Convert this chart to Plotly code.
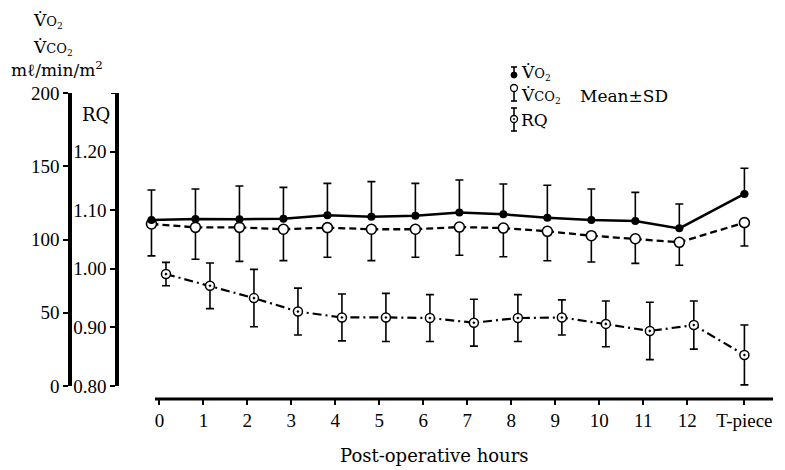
import plotly.graph_objects as go

# ---------------- data ----------------
hour_labels = ["0", "1", "2", "3", "4", "5", "6", "7", "8", "9", "10", "11", "12", "T-piece"]
hour_pos = [0, 1, 2, 3, 4, 5, 6, 7, 8, 9, 10, 11, 12, 13.3]

vo2_mean = [113.3, 114.0, 113.8, 114.2, 116.5, 115.6, 116.2, 118.4, 117.2, 114.9, 113.3, 112.6, 107.6, 131.1]
vo2_sd = [20.5, 20.5, 22.7, 21.4, 21.8, 23.9, 22.1, 22.2, 20.7, 22.1, 21.2, 19.6, 16.6, 17.5]

vco2_mean = [110.6, 108.3, 108.3, 107.0, 108.1, 107.0, 107.0, 108.5, 107.8, 105.6, 102.6, 100.5, 98.1, 111.5]
vco2_sd = [21.8, 21.8, 23.2, 21.4, 20.2, 21.4, 19.1, 19.3, 19.6, 20.1, 18.0, 16.8, 15.7, 15.9]

rq_mean = [0.991, 0.971, 0.950, 0.927, 0.917, 0.917, 0.916, 0.908, 0.916, 0.917, 0.906, 0.894, 0.904, 0.853]
rq_sd = [0.020, 0.039, 0.049, 0.040, 0.040, 0.041, 0.040, 0.040, 0.040, 0.030, 0.039, 0.049, 0.041, 0.051]

vo2_ticks = [0, 50, 100, 150, 200]
rq_ticks = [0.80, 0.90, 1.00, 1.10, 1.20]
rq_ticktext = ["0.80", "0.90", "1.00", "1.10", "1.20"]
rq_top = 1.30
x_line_range = [-0.1, 13.95]

# ---------------- layout constants ----------------
FIG_W, FIG_H = 785, 470
ML, MR, MT, MB = 70, 12, 93, 71
PW = FIG_W - ML - MR
PH = FIG_H - MT - MB
SERIF = "DejaVu Serif"
TICKFONT = dict(family="Liberation Serif", size=19, color="black")
X_START_PX = 135
PX_PER_HOUR = 44.0

# small horizontal dodge used in the original drawing (hours only)
dodge_mask = [1] * 13 + [0]
vo2_x = [p - 0.18 * m for p, m in zip(hour_pos, dodge_mask)]
rq_x = [p + 0.15 * m for p, m in zip(hour_pos, dodge_mask)]


def px(x):
    return (x - ML) / PW


def py(y):
    return (FIG_H - MB - y) / PH


fig = go.Figure()

fig.add_trace(go.Scatter(
    x=vo2_x, y=vco2_mean, mode="lines+markers", name="VCO2", cliponaxis=False,
    line=dict(color="black", width=2.3, dash="7px,4px"),
    marker=dict(symbol="circle", size=10, color="white", line=dict(color="black", width=1.6)),
    error_y=dict(type="data", symmetric=False, array=[0] * len(vco2_sd), arrayminus=vco2_sd,
                 color="black", thickness=1.6, width=4),
    xaxis="x", yaxis="y",
))
fig.add_trace(go.Scatter(
    x=vo2_x, y=vo2_mean, mode="lines+markers", name="VO2", cliponaxis=False,
    line=dict(color="black", width=2.5),
    marker=dict(symbol="circle", size=8, color="black"),
    error_y=dict(type="data", symmetric=False, array=vo2_sd, arrayminus=[0] * len(vo2_sd),
                 color="black", thickness=1.6, width=4),
    xaxis="x", yaxis="y",
))
fig.add_trace(go.Scatter(
    x=rq_x, y=rq_mean, mode="lines+markers", name="RQ", cliponaxis=False,
    line=dict(color="black", width=2.2, dash="9px,4px,2px,4px"),
    marker=dict(symbol="circle-dot", size=9, color="white", line=dict(color="black", width=1.5)),
    error_y=dict(type="data", array=rq_sd, color="black", thickness=1.6, width=4),
    xaxis="x", yaxis="y2",
))

annotations = []
shapes = []

# top-left unit labels
annotations.append(dict(text="V\u0307<span style='font-size:13px'>O<sub>2</sub></span>",
                        x=px(31), y=py(21), xanchor="left", yanchor="middle"))
annotations.append(dict(text="V\u0307<span style='font-size:13px'>CO<sub>2</sub></span>",
                        x=px(31), y=py(47), xanchor="left", yanchor="middle"))
annotations.append(dict(text="m\u2113/min/m<sup>2</sup>",
                        x=px(57), y=py(69), xanchor="center", yanchor="middle"))
annotations.append(dict(text="RQ", x=px(96), y=py(114), xanchor="center", yanchor="middle",
                        font=dict(family=SERIF, size=18, color="black")))

# x title
annotations.append(dict(text="Post-operative hours", x=px(434), y=py(455),
                        xanchor="center", yanchor="middle",
                        font=dict(family=SERIF, size=18, color="black")))

# legend
LX = 514
legend_rows = [
    ("V\u0307<span style='font-size:13px'>O<sub>2</sub></span>", 72),
    ("V\u0307<span style='font-size:13px'>CO<sub>2</sub></span>", 96),
    ("RQ", 120),
]
for txt, yy in legend_rows:
    annotations.append(dict(text=txt, x=px(LX + 5), y=py(yy), xanchor="left", yanchor="middle"))
annotations.append(dict(text="Mean\u00b1SD", x=px(578), y=py(96), xanchor="left", yanchor="middle"))

lw = dict(color="black", width=1.6)
# VO2 legend glyph: bar up from filled dot
shapes.append(dict(type="line", xref="paper", yref="paper", x0=px(LX), x1=px(LX), y0=py(67), y1=py(75), line=lw))
shapes.append(dict(type="line", xref="paper", yref="paper", x0=px(LX - 3), x1=px(LX + 3), y0=py(67), y1=py(67), line=lw))
shapes.append(dict(type="circle", xref="paper", yref="paper", xsizemode="pixel", ysizemode="pixel",
                   xanchor=px(LX), yanchor=py(75), x0=-3, x1=3, y0=-3, y1=3,
                   fillcolor="black", line=dict(color="black", width=1)))
# VCO2 legend glyph: open circle, bar down
shapes.append(dict(type="line", xref="paper", yref="paper", x0=px(LX), x1=px(LX), y0=py(89), y1=py(101), line=lw))
shapes.append(dict(type="line", xref="paper", yref="paper", x0=px(LX - 3), x1=px(LX + 3), y0=py(101), y1=py(101), line=lw))
shapes.append(dict(type="circle", xref="paper", yref="paper", xsizemode="pixel", ysizemode="pixel",
                   xanchor=px(LX), yanchor=py(88), x0=-3.5, x1=3.5, y0=-3.5, y1=3.5,
                   fillcolor="white", line=dict(color="black", width=1.3)))
# RQ legend glyph: bar both ways with circle-dot
shapes.append(dict(type="line", xref="paper", yref="paper", x0=px(LX), x1=px(LX), y0=py(108), y1=py(131), line=lw))
shapes.append(dict(type="line", xref="paper", yref="paper", x0=px(LX - 3), x1=px(LX + 3), y0=py(108), y1=py(108), line=lw))
shapes.append(dict(type="line", xref="paper", yref="paper", x0=px(LX - 3), x1=px(LX + 3), y0=py(131), y1=py(131), line=lw))
shapes.append(dict(type="circle", xref="paper", yref="paper", xsizemode="pixel", ysizemode="pixel",
                   xanchor=px(LX), yanchor=py(119), x0=-3.5, x1=3.5, y0=-3.5, y1=3.5,
                   fillcolor="white", line=dict(color="black", width=1.3)))
shapes.append(dict(type="circle", xref="paper", yref="paper", xsizemode="pixel", ysizemode="pixel",
                   xanchor=px(LX), yanchor=py(119), x0=-0.8, x1=0.8, y0=-0.8, y1=0.8,
                   fillcolor="black", line=dict(color="black", width=0.5)))

# x axis baseline (drawn over the hour span only)
shapes.append(dict(type="line", xref="x", yref="paper", x0=x_line_range[0], x1=x_line_range[1],
                   y0=0, y1=0, line=dict(color="black", width=3)))
# top bracket tick of the RQ axis (unlabelled 1.30)
shapes.append(dict(type="line", xref="paper", yref="y2", x0=px(111), x1=px(117),
                   y0=rq_top, y1=rq_top, line=dict(color="black", width=2)))

for a in annotations:
    a.setdefault("xref", "paper")
    a.setdefault("yref", "paper")
    a.setdefault("showarrow", False)
    a.setdefault("font", dict(family=SERIF, size=17, color="black"))

ydom = [(FIG_H - MB - 386) / PH, 1]
x_left = x_line_range[0] - (155 - X_START_PX) / PX_PER_HOUR

fig.update_layout(
    width=FIG_W, height=FIG_H,
    margin=dict(l=ML, r=MR, t=MT, b=MB, pad=0),
    paper_bgcolor="white", plot_bgcolor="white",
    showlegend=False,
    font=dict(family=SERIF, color="black"),
    xaxis=dict(
        domain=[(X_START_PX - ML) / PW, 1], range=[x_left, x_line_range[1]],
        anchor="free", position=0,
        tickvals=hour_pos, ticktext=hour_labels,
        ticks="outside", ticklen=5, tickwidth=1.6, tickcolor="black",
        ticklabelstandoff=-1,
        showline=False, showgrid=False, zeroline=False, tickfont=TICKFONT,
    ),
    yaxis=dict(
        domain=ydom, range=[0, 200],
        anchor="free", position=0,
        tickvals=vo2_ticks,
        ticks="outside", ticklen=5, tickwidth=2, tickcolor="black",
        showline=True, linecolor="black", linewidth=3.5,
        showgrid=False, zeroline=False, tickfont=TICKFONT,
    ),
    yaxis2=dict(
        range=[0.80, rq_top], overlaying="y",
        anchor="free", position=(117 - ML) / PW,
        tickvals=rq_ticks, ticktext=rq_ticktext,
        ticks="outside", ticklen=5, tickwidth=2, tickcolor="black",
        showline=True, linecolor="black", linewidth=3.5,
        showgrid=False, zeroline=False, tickfont=TICKFONT,
    ),
    annotations=annotations,
    shapes=shapes,
)

fig.write_html("out.html")
